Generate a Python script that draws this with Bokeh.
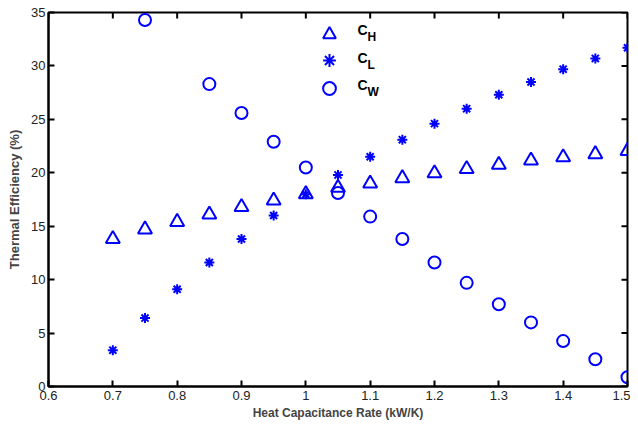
from bokeh.plotting import figure
from bokeh.models import (ColumnDataSource, FixedTicker, Range1d,
                          Legend, LegendItem, Label)
from bokeh.embed import file_html
from bokeh.resources import INLINE

# ---- data ----
rate = [0.70, 0.75, 0.80, 0.85, 0.90, 0.95, 1.00, 1.05, 1.10, 1.15,
        1.20, 1.25, 1.30, 1.35, 1.40, 1.45, 1.50]
c_h = [13.8, 14.7, 15.4, 16.1, 16.8, 17.4, 18.0, 18.6, 19.0, 19.5,
       19.95, 20.35, 20.75, 21.15, 21.45, 21.75, 22.05]
c_l = [3.4, 6.4, 9.1, 11.6, 13.8, 16.0, 18.0, 19.8, 21.5, 23.1,
       24.6, 26.0, 27.3, 28.5, 29.7, 30.7, 31.7]
rate_w = [0.75, 0.85, 0.90, 0.95, 1.00, 1.05, 1.10, 1.15,
          1.20, 1.25, 1.30, 1.35, 1.40, 1.45, 1.50]
c_w = [34.3, 28.3, 25.6, 22.9, 20.5, 18.1, 15.9, 13.8,
       11.6, 9.7, 7.7, 6.0, 4.25, 2.55, 0.87]

x_ticks = [0.6, 0.7, 0.8, 0.9, 1.0, 1.1, 1.2, 1.3, 1.4, 1.5]
x_tick_labels = ["0.6", "0.7", "0.8", "0.9", "1", "1.1", "1.2", "1.3", "1.4", "1.5"]
y_ticks = [0, 5, 10, 15, 20, 25, 30, 35]
x_lim = (0.6, 1.5)
y_lim = (0, 35)

series_names = ["C", "C", "C"]
series_subs = ["H", "L", "W"]

BLUE = "#0000ff"
FONT = "Liberation Sans"

W, H = 630, 422
BL, BR, BT, BB = 48, 3, 12, 34
p = figure(width=W, height=H, output_backend="svg", toolbar_location=None,
           x_range=Range1d(*x_lim), y_range=Range1d(*y_lim),
           min_border_left=BL, min_border_right=BR, min_border_top=BT,
           min_border_bottom=BB)

src_h = ColumnDataSource(dict(x=rate, y=c_h))
src_l = ColumnDataSource(dict(x=rate, y=c_l))
src_w = ColumnDataSource(dict(x=rate_w, y=c_w))

r_h = p.scatter("x", "y", source=src_h, marker="triangle", size=14,
                fill_color=None, line_color=BLUE, line_width=2)
r_l = p.scatter("x", "y", source=src_l, marker="asterisk", size=10,
                line_color=BLUE, line_width=2)
r_w = p.scatter("x", "y", source=src_w, marker="circle", size=12,
                fill_color=None, line_color=BLUE, line_width=2)

# inward box tick marks on the top and right edges (MATLAB style)
TICK = 6
dx = TICK * (x_lim[1] - x_lim[0]) / (W - BL - BR)
dy = TICK * (y_lim[1] - y_lim[0]) / (H - BT - BB)
nx, ny = len(x_ticks), len(y_ticks)
p.segment(x0=x_ticks, x1=x_ticks,
          y0=[y_lim[1]] * nx, y1=[y_lim[1] - dy] * nx,
          line_color="black", line_width=2)
p.segment(x0=[x_lim[1]] * ny, x1=[x_lim[1] - dx] * ny,
          y0=y_ticks, y1=y_ticks,
          line_color="black", line_width=2)

p.grid.visible = False
p.background_fill_color = "white"
p.border_fill_color = "white"
p.outline_line_color = "black"
p.outline_line_width = 2

overrides = {t: l for t, l in zip(x_ticks, x_tick_labels)}

def style_axis(ax):
    ax.axis_line_color = "black"
    ax.axis_line_width = 2
    ax.major_tick_in = TICK
    ax.major_tick_out = 0
    ax.major_tick_line_width = 2
    ax.major_tick_line_color = "black"
    ax.minor_tick_line_color = None
    ax.major_label_text_font = FONT
    ax.major_label_text_font_size = "13px"
    ax.major_label_text_color = "#222222"
    ax.major_label_standoff = 4

xa = p.xaxis[0]
xa.ticker = FixedTicker(ticks=x_ticks)
xa.major_label_overrides = overrides
style_axis(xa)
xa.axis_label = "Heat Capacitance Rate (kW/K)"
xa.axis_label_text_font = FONT
xa.axis_label_text_font_style = "bold"
xa.axis_label_text_font_size = "12px"
xa.axis_label_standoff = 3

ya = p.yaxis[0]
ya.ticker = FixedTicker(ticks=y_ticks)
style_axis(ya)
ya.major_label_standoff = 3
ya.axis_label = "Thermal Efficiency (%)"
ya.axis_label_text_font = FONT
ya.axis_label_text_font_style = "bold"
ya.axis_label_text_font_size = "13px"
ya.axis_label_standoff = 6

# one single-item legend per series so each row can be placed exactly
legend_bottoms = [336, 310, 282]
for r, yb in zip((r_h, r_l, r_w), legend_bottoms):
    lg = Legend(items=[LegendItem(label=" ", renderers=[r])],
                location=(265, yb), border_line_alpha=0, background_fill_alpha=0,
                padding=0, spacing=0, glyph_height=32, glyph_width=32,
                label_height=20, label_width=1, label_text_font_size="1px",
                margin=0)
    p.add_layout(lg, "center")

row_y = [357, 329, 302]
for name, sub, yy in zip(series_names, series_subs, row_y):
    p.add_layout(Label(x=309, y=yy, x_units="screen", y_units="screen", text=name,
                       text_font=FONT, text_font_style="bold", text_font_size="14px",
                       text_baseline="middle", text_color="black"))
    p.add_layout(Label(x=319, y=yy - 7, x_units="screen", y_units="screen", text=sub,
                       text_font=FONT, text_font_style="bold", text_font_size="12px",
                       text_baseline="middle", text_color="black"))

open("out.html", "w").write(file_html(p, INLINE))
